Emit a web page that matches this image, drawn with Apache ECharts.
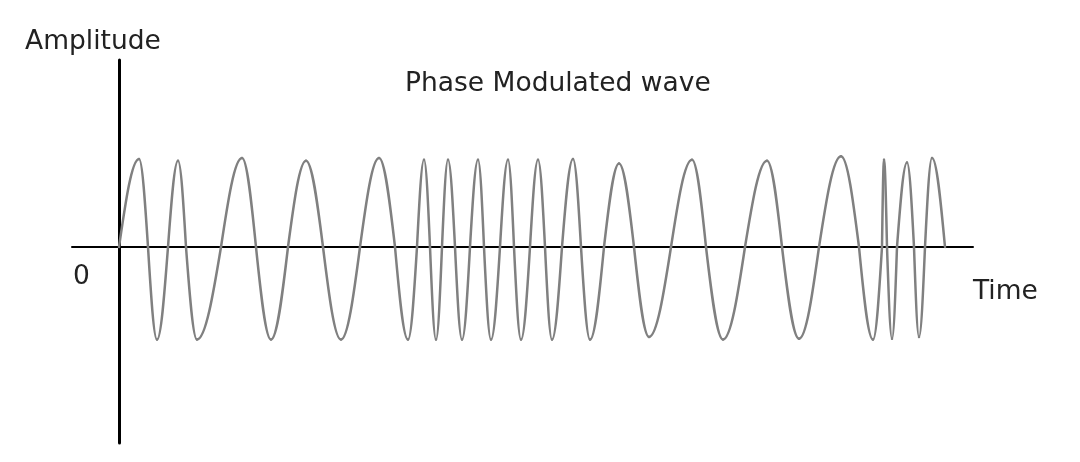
<!DOCTYPE html>
<html>
<head>
<meta charset="utf-8">
<script src="https://cdn.jsdelivr.net/npm/echarts@6/dist/echarts.min.js"></script>
<style>html,body{margin:0;padding:0;background:#fff;}#c{width:1080px;height:462px;}</style>
</head>
<body>
<div id="c"></div>
<script>
// Wave key points (zero crossings, peaks, troughs): time units from origin, amplitude
const waveTime = [0, 20, 29, 38, 49, 59, 67, 78, 102, 123, 137, 152, 169, 187, 204, 222, 241, 260, 276, 289, 298, 305, 311, 317, 323, 329, 336, 343, 351, 359, 365, 372, 381, 389, 395, 402, 411, 419, 426, 433, 443, 454, 462, 471, 485, 500, 515, 530, 552, 573, 587, 604, 626, 648, 663, 680, 700, 722, 740, 754, 763, 765, 768, 773, 778, 788, 795, 800, 806, 813, 826];
const waveAmp  = [0, 0.98, 0, -1.03, 0, 0.96, 0, -1.03, 0, 0.99, 0, -1.03, 0, 0.96, 0, -1.03, 0, 0.99, 0, -1.03, 0, 0.97, 0, -1.03, 0, 0.97, 0, -1.03, 0, 0.97, 0, -1.03, 0, 0.97, 0, -1.03, 0, 0.97, 0, -1.03, 0, 0.98, 0, -1.03, 0, 0.93, 0, -1.0, 0, 0.97, 0, -1.03, 0, 0.96, 0, -1.02, 0, 1.01, 0, -1.03, 0, 0.97, 0, -1.02, 0, 0.94, 0, -1.0, 0, 0.99, 0];
const titleText = 'Phase Modulated wave';
const yName = 'Amplitude';
const xName = 'Time';
const originLabel = '0';

const chart = echarts.init(document.getElementById('c'), null, {renderer: 'canvas'});
// one item per segment between consecutive key points
const segments = waveTime.slice(0, -1).map((t, i) => [t, waveAmp[i], waveTime[i + 1], waveAmp[i + 1]]);
const font = '"DejaVu Sans", Verdana, sans-serif';
const fs = 26.5;

function renderSeg(params, api) {
  const a = api.coord([api.value(0), api.value(1)]);
  const b = api.coord([api.value(2), api.value(3)]);
  const w = b[0] - a[0];
  const startsAtZero = api.value(1) === 0;
  let cp1, cp2;
  if (startsAtZero) {
    // quarter of a sine: zero -> extremum
    cp1 = [a[0] + 0.326 * w, a[1] + 0.5122 * (b[1] - a[1])];
    cp2 = [a[0] + 0.6427 * w, b[1]];
  } else {
    // extremum -> zero
    cp1 = [a[0] + 0.3573 * w, a[1]];
    cp2 = [a[0] + 0.674 * w, b[1] + 0.5122 * (a[1] - b[1])];
  }
  return {
    type: 'bezierCurve',
    shape: {x1: a[0], y1: a[1], x2: b[0], y2: b[1], cpx1: cp1[0], cpy1: cp1[1], cpx2: cp2[0], cpy2: cp2[1]},
    style: {stroke: '#808080', lineWidth: 2.5, fill: null, lineCap: 'round'}
  };
}

chart.setOption({
  animation: false,
  backgroundColor: '#fff',
  grid: {left: 72, right: 107, top: 60, bottom: 19, containLabel: false},
  xAxis: {
    type: 'value', min: -47, max: 854,
    axisLine: {show: true, onZero: true, lineStyle: {color: '#000', width: 2}},
    axisTick: {show: false}, axisLabel: {show: false}, splitLine: {show: false}
  },
  yAxis: {
    type: 'value', min: -2.18, max: 2.08,
    axisLine: {show: true, onZero: true, lineStyle: {color: '#000', width: 3}},
    axisTick: {show: false}, axisLabel: {show: false}, splitLine: {show: false}
  },
  series: [{
    type: 'custom', data: segments, renderItem: renderSeg, z: 1,
    encode: {x: [0, 2], y: [1, 3]}, silent: true
  }],
  graphic: [
    {type: 'text', left: 405, top: 71, style: {text: titleText, font: fs + 'px ' + font, fill: '#222'}},
    {type: 'text', left: 25, top: 29, style: {text: yName, font: fs + 'px ' + font, fill: '#222'}},
    {type: 'text', left: 973, top: 279, style: {text: xName, font: fs + 'px ' + font, fill: '#222'}},
    {type: 'text', left: 73, top: 264, style: {text: originLabel, font: fs + 'px ' + font, fill: '#222'}}
  ]
});
</script>
</body>
</html>
